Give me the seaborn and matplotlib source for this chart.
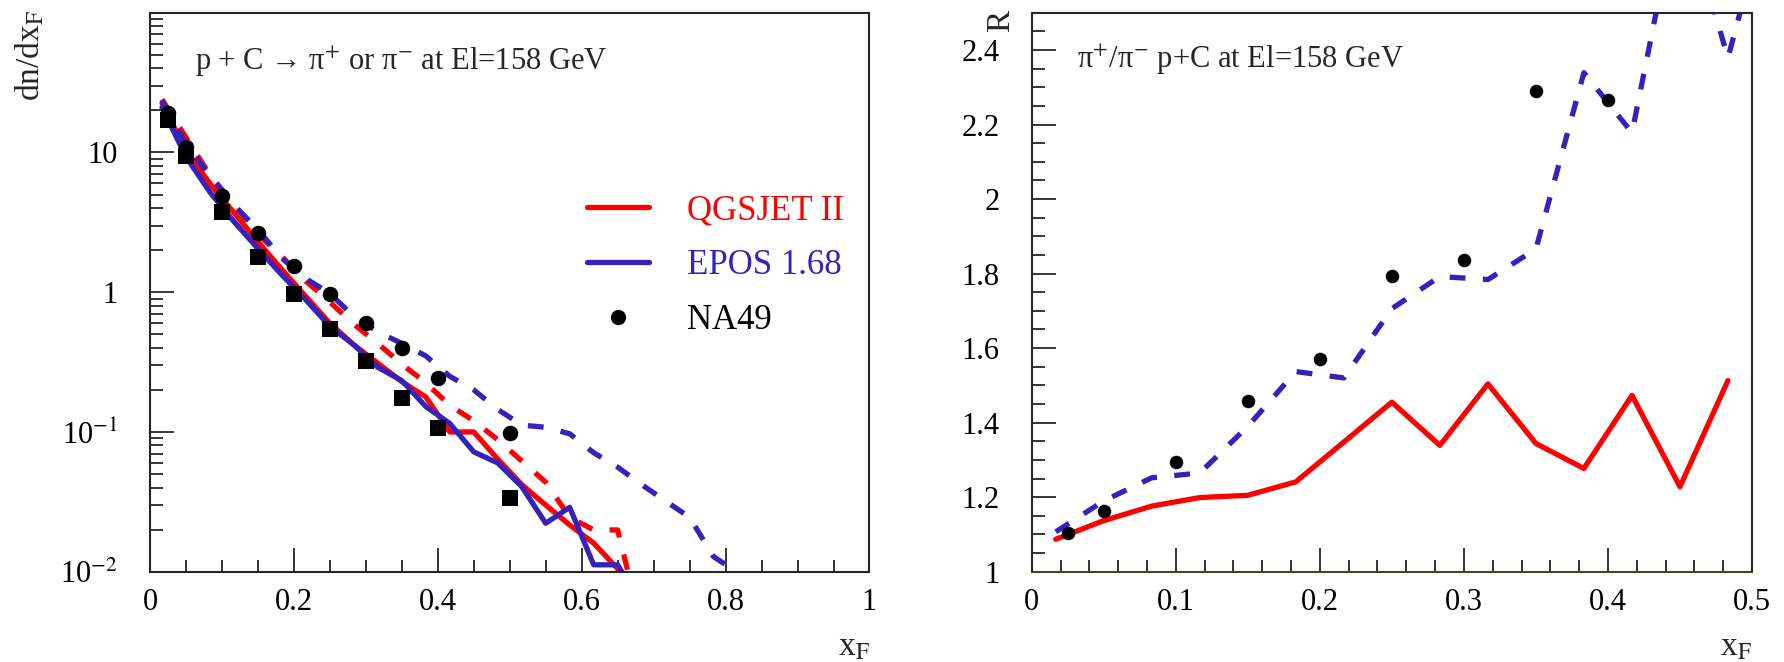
import numpy as np
import pandas as pd
import matplotlib
matplotlib.use("Agg")
import matplotlib.pyplot as plt
import seaborn as sns
from matplotlib.lines import Line2D
from matplotlib.legend_handler import HandlerLine2D
from matplotlib.ticker import FixedLocator, MultipleLocator, FuncFormatter, NullFormatter

# ---------------- data ----------------
# model bin centres in x_F
xf_bins = [0.0167, 0.05, 0.0833, 0.1167, 0.15, 0.1833, 0.2167, 0.25, 0.2833, 0.3167,
           0.35, 0.3833, 0.4167, 0.45, 0.4833, 0.5167, 0.55, 0.5833, 0.6167, 0.65,
           0.6833, 0.7167, 0.75, 0.7833, 0.8167, 0.85]

# left panel: dn/dx_F
qgs_pim = [22.5, 10.3, 6.0, 3.7, 2.3, 1.45, 0.93, 0.60, 0.42, 0.31, 0.229, 0.178,
           0.100, 0.100, 0.064, 0.042, 0.030, 0.0216, 0.016, 0.0105, 0.004]
qgs_pip = [24.0, 12.8, 6.9, 4.25, 2.6, 1.8, 1.2, 0.85, 0.59, 0.43, 0.305, 0.225,
           0.155, 0.12, 0.088, 0.062, 0.0437, 0.0245, 0.0199, 0.0199, 0.004]
epos_pim = [21.0, 9.3, 5.2, 3.2, 2.05, 1.33, 0.88, 0.57, 0.42, 0.29, 0.233, 0.152,
            0.115, 0.072, 0.060, 0.0406, 0.0222, 0.0289, 0.0112, 0.0112, 0.0057]
epos_pip = [23.5, 11.5, 6.8, 4.2, 2.8, 1.75, 1.25, 0.98, 0.67, 0.52, 0.43, 0.35,
            0.25, 0.20, 0.145, 0.112, 0.108, 0.097, 0.071, 0.056, 0.042, 0.032,
            0.0245, 0.0128, 0.0099, 0.007]

na49_x = [0.025, 0.05, 0.1, 0.15, 0.2, 0.25, 0.3, 0.35, 0.4, 0.5]
na49_pip = [19.1, 11.0, 4.87, 2.67, 1.54, 0.97, 0.60, 0.40, 0.244, 0.098]
na49_pim = [17.1, 9.4, 3.77, 1.80, 0.97, 0.543, 0.324, 0.176, 0.106, 0.0339]

# right panel: ratio pi+/pi-
qgs_ratio = [1.087, 1.137, 1.176, 1.199, 1.205, 1.241, 1.348, 1.455, 1.339, 1.504,
             1.344, 1.277, 1.473, 1.228, 1.513]
epos_ratio = [1.107, 1.19, 1.252, 1.265, 1.39, 1.537, 1.52, 1.706, 1.792, 1.784,
              1.866, 2.339, 2.178, 2.82, 2.379, 2.86]
na49_ratio_x = [0.025, 0.05, 0.1, 0.15, 0.2, 0.25, 0.3, 0.35, 0.4]
na49_ratio = [1.103, 1.163, 1.295, 1.458, 1.571, 1.794, 1.836, 2.290, 2.267]

legend_labels = ["QGSJET II", "EPOS 1.68", "NA49"]

# ---------------- style ----------------
RED = "#ff0000"
BLUE = "#3322bb"
sns.set_theme(style="white")
plt.rcParams["font.family"] = ["Liberation Serif", "DejaVu Serif"]
plt.rcParams["mathtext.fontset"] = "stix"
plt.rcParams["axes.linewidth"] = 1.5

LW = 3.8
DASH = (0, (3, 3.3))

fig = plt.figure(figsize=(17.84, 6.62), dpi=100)
fig.patch.set_facecolor("white")
ax1 = fig.add_axes([0.08408, 0.1364, 0.4033, 0.8444])
ax2 = fig.add_axes([0.57831, 0.1364, 0.40376, 0.8444])


def series(vals):
    return pd.DataFrame({"xF": xf_bins[:len(vals)], "val": vals})


# ---------------- left panel ----------------
ax1.set_yscale("log")
for vals, col, ls in [(qgs_pim, RED, "-"), (qgs_pip, RED, DASH),
                      (epos_pim, BLUE, "-"), (epos_pip, BLUE, DASH)]:
    sns.lineplot(data=series(vals), x="xF", y="val", ax=ax1, color=col,
                 linewidth=LW, linestyle=ls, estimator=None, sort=False)

sns.scatterplot(x=na49_x, y=na49_pip, ax=ax1, marker="o", color="black",
                s=125, linewidth=0, zorder=6)
sns.scatterplot(x=na49_x, y=na49_pim, ax=ax1, marker="s", color="black",
                s=125, linewidth=0, zorder=6)

ax1.set_xlim(0, 1)
ax1.set_ylim(0.01, 100)
ax1.xaxis.set_major_locator(MultipleLocator(0.2))
ax1.xaxis.set_minor_locator(MultipleLocator(0.05))
ax1.xaxis.set_major_formatter(FuncFormatter(lambda v, p: "%g" % round(v, 3)))
ax1.yaxis.set_major_locator(FixedLocator([0.01, 0.1, 1, 10]))
minor = [m * 10.0 ** e for e in range(-2, 2) for m in range(2, 10)]
ax1.yaxis.set_minor_locator(FixedLocator(minor))
ylab = {0.01: r"10$^{-2}$", 0.1: r"10$^{-1}$", 1: "1", 10: "10"}
ax1.yaxis.set_major_formatter(FuncFormatter(
    lambda v, p: ylab.get(min(ylab, key=lambda k: abs(np.log10(k) - np.log10(v))), "")))
ax1.yaxis.set_minor_formatter(NullFormatter())
ax1.set_xlabel("")
ax1.set_ylabel("")

ax1.text(0.0625, 0.8975, "p + C → π$^{+}$ or π$^{-}$ at El=158 GeV",
         transform=ax1.transAxes, fontsize=22, ha="left", va="baseline")


class RightMarker(HandlerLine2D):
    def get_xdata(self, legend, xdescent, ydescent, width, height, fontsize):
        xdata, xm = super().get_xdata(legend, xdescent, ydescent, width, height, fontsize)
        return xdata, np.array([-xdescent + width])


h_q = Line2D([], [], color=RED, lw=LW)
h_e = Line2D([], [], color=BLUE, lw=LW)
h_n = Line2D([], [], color="black", marker="o", ls="none", ms=11, mew=0)
leg = ax1.legend([h_q, h_e, h_n], legend_labels, loc="center left",
                 bbox_to_anchor=(0.607, 0.548), frameon=False, fontsize=25,
                 handlelength=1.8, handletextpad=1.1, labelspacing=0.63,
                 borderpad=0, borderaxespad=0, numpoints=1,
                 handler_map={h_n: RightMarker()})
for t, c in zip(leg.get_texts(), [RED, BLUE, "black"]):
    t.set_color(c)

# ---------------- right panel ----------------
sns.lineplot(data=series(qgs_ratio), x="xF", y="val", ax=ax2, color=RED,
             linewidth=LW, estimator=None, sort=False)
sns.lineplot(data=series(epos_ratio), x="xF", y="val", ax=ax2, color=BLUE,
             linewidth=LW, linestyle=DASH, estimator=None, sort=False)
sns.scatterplot(x=na49_ratio_x, y=na49_ratio, ax=ax2, marker="o", color="black",
                s=95, linewidth=0, zorder=6)

ax2.set_xlim(0, 0.5)
ax2.set_ylim(1, 2.5)
ax2.xaxis.set_major_locator(MultipleLocator(0.1))
ax2.xaxis.set_minor_locator(MultipleLocator(0.02))
ax2.yaxis.set_major_locator(FixedLocator([1.0, 1.2, 1.4, 1.6, 1.8, 2.0, 2.2, 2.4]))
ax2.yaxis.set_minor_locator(MultipleLocator(0.05))
fmt = FuncFormatter(lambda v, p: "%g" % round(v, 3))
ax2.xaxis.set_major_formatter(fmt)
ax2.yaxis.set_major_formatter(fmt)
ax2.set_xlabel("")
ax2.set_ylabel("")
ax2.spines["bottom"].set_color("#4a4228")

ax2.text(0.0625, 0.9005, "π$^{+}$/π$^{-}$ p+C at El=158 GeV",
         transform=ax2.transAxes, fontsize=22, ha="left", va="baseline")

# ---------------- common axis styling ----------------
for ax in (ax1, ax2):
    ax.set_facecolor("white")
    for s in ax.spines.values():
        s.set_linewidth(1.5)
        s.set_visible(True)
    ax.tick_params(axis="both", which="both", direction="in", top=False,
                   right=False, bottom=True, left=True, colors="black",
                   labelsize=22)
    ax.tick_params(axis="both", which="major", length=17, width=1.1)
    ax.tick_params(axis="both", which="minor", length=9, width=1.1)
    ax.tick_params(axis="y", which="major", pad=23)
    ax.tick_params(axis="x", which="major", pad=12)
    ax.grid(False)

# axis titles (ROOT style placement)
fig.text(30 / 1784, 1 - 10 / 662, r"dn/dx$_{\mathrm{F}}$", rotation=90,
         ha="center", va="top", fontsize=24)
fig.text(1001 / 1784, 1 - 10 / 662, "R", rotation=90, ha="center", va="top",
         fontsize=24)
fig.text(870 / 1784, 1 - 632 / 662, r"x$_{\mathrm{F}}$", ha="right", va="top",
         fontsize=24)
fig.text(1752 / 1784, 1 - 632 / 662, r"x$_{\mathrm{F}}$", ha="right", va="top",
         fontsize=24)

fig.savefig("out.png", dpi=100, facecolor="white")
